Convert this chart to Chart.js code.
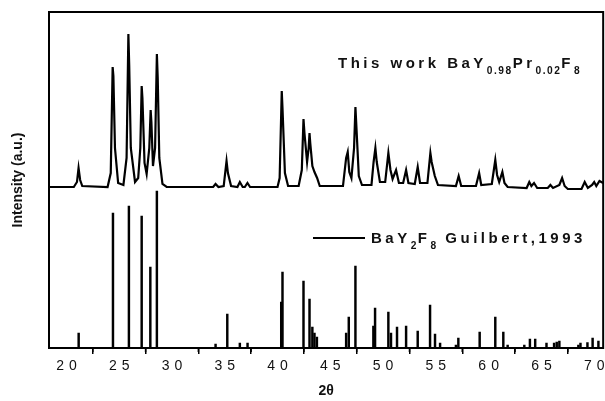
<!DOCTYPE html>
<html lang="en">
<head>
<meta charset="UTF-8" />
<title>XRD BaY2F8</title>
<script src="https://cdn.jsdelivr.net/npm/chart.js"></script>
<style>
  body { margin: 0; background: #fff; }
</style>
</head>
<body>
<canvas id="xrd" width="605" height="401"></canvas>
<script>
// measured pattern, this work (2theta, intensity in a.u.)
const measTheta = [18.4, 20.7, 21.0, 21.15, 21.3, 21.5, 23.9, 24.2, 24.38, 24.45, 24.6, 24.9, 25.4, 25.7, 25.87, 25.95, 26.1, 26.5, 26.8, 27.0, 27.13, 27.2, 27.4, 27.6, 27.85, 27.98, 28.05, 28.2, 28.4, 28.57, 28.65, 28.8, 29.1, 29.5,
  33.9, 34.13, 34.4, 34.9, 35.17, 35.3, 35.6, 36.2, 36.43, 36.7, 36.9, 37.15, 37.4, 40.0, 40.2, 40.4, 40.47, 40.7, 41.0,
  42.0, 42.3, 42.46, 42.55, 42.8, 42.95, 43.03, 43.1, 43.3, 43.5, 43.75, 44.0, 46.2, 46.5, 46.65, 46.8, 47.0, 47.25, 47.38, 47.45, 47.7, 48.0,
  48.9, 49.1, 49.27, 49.4, 49.7, 50.2, 50.5, 50.7, 50.9, 51.23, 51.5, 51.9, 52.18, 52.4, 53.0, 53.28, 53.5, 54.2, 54.48, 54.6, 54.9, 55.2,
  56.9, 57.16, 57.4, 58.8, 59.1, 59.3, 60.3, 60.63, 60.8, 61.0, 61.3, 61.5, 61.8, 63.6, 63.85, 64.05, 64.3, 64.6, 65.6, 65.85, 66.1,
  66.7, 66.96, 67.2, 67.5, 68.8, 69.1, 69.4, 69.8, 70.0, 70.2, 70.5, 70.85];
const measIntensity = [161, 161, 166, 180, 168, 162, 161, 175, 281, 272, 200, 165, 163, 190, 314, 282, 200, 166, 170, 200, 262, 250, 185, 174, 200, 238, 226, 182, 200, 294, 270, 190, 164, 161,
  161, 164, 161, 162, 187, 175, 162, 161, 166, 161, 161, 165, 161, 161, 170, 257, 240, 175, 162,
  162, 178, 229, 215, 186, 200, 215, 205, 182, 176, 170, 162, 162, 190, 196, 176, 170, 200, 241, 226, 172, 163,
  163, 186, 200, 186, 166, 166, 195, 178, 169, 178, 165, 165, 178, 165, 164, 181, 165, 165, 195, 186, 172, 163,
  162, 172, 162, 162, 175, 163, 164, 188, 173, 166, 176, 165, 161, 160, 166, 162, 165, 160, 160, 163, 160,
  163, 170, 162, 159, 159, 166, 160, 163, 166, 162, 167, 165];

// reference lines, BaY2F8 Guilbert 1993
const refTheta = [21.16, 24.41, 25.92, 27.13, 27.95, 28.57, 34.13, 35.24, 36.43, 37.16, 40.35, 40.47, 42.46, 43.03, 43.3, 43.5, 43.73,
  46.5, 46.75, 47.38, 49.08, 49.24, 50.5, 50.75, 51.32, 52.18, 53.28, 54.45, 54.92, 55.4, 56.9, 57.13, 59.15, 60.63, 61.39, 61.8,
  63.38, 63.91, 64.41, 65.48, 66.2, 66.45, 66.7, 68.5, 68.7, 69.36, 69.85, 70.4];
const refIntensity = [15, 135, 142, 132, 81, 157, 4, 34, 5, 5, 46, 76, 67, 49, 21, 15, 11,
  15, 31, 82, 22, 40, 36, 15, 21, 22, 17, 43, 14, 5, 3, 10, 16, 31, 16, 3,
  3, 9, 9, 5, 5, 6, 7, 3, 5, 5.5, 10, 7];

const majorTicks = [20, 25, 30, 35, 40, 45, 50, 55, 60, 65, 70];

const FONT = 'Arial, "Liberation Sans", sans-serif';

function richText(ctx, x, y, parts, size) {
  parts.forEach(p => {
    const sz = p.sub ? size * 0.68 : size;
    ctx.font = `bold ${sz}px ${FONT}`;
    ctx.letterSpacing = (p.sub ? 1.5 : 3.5) + 'px';
    ctx.fillText(p.t, x, p.sub ? y + 6 : y);
    x += ctx.measureText(p.t).width;
  });
}

const decor = {
  id: 'decor',
  afterDraw(chart) {
    const { ctx, chartArea: a, scales: { x } } = chart;
    ctx.save();
    ctx.strokeStyle = '#000';
    ctx.lineWidth = 2;
    ctx.strokeRect(a.left, a.top, a.right - a.left, a.bottom - a.top);

    // minor ticks
    ctx.lineWidth = 1.5;
    for (let v = 22.5; v < x.max; v += 5) {
      const px = x.getPixelForValue(v);
      ctx.beginPath();
      ctx.moveTo(px, a.bottom);
      ctx.lineTo(px, a.bottom + 4);
      ctx.stroke();
    }

    // spaced tick labels
    ctx.fillStyle = '#111';
    ctx.font = `14px ${FONT}`;
    ctx.letterSpacing = '5px';
    ctx.textBaseline = 'middle';
    majorTicks.forEach(v => {
      const s = String(v);
      const w = ctx.measureText(s).width - 5;
      ctx.fillText(s, x.getPixelForValue(v) - w / 2, a.bottom + 18.5);
    });

    // legend texts
    ctx.textBaseline = 'alphabetic';
    richText(ctx, 338, 68, [
      { t: 'This work BaY' }, { t: '0.98', sub: true }, { t: 'Pr' }, { t: '0.02', sub: true }, { t: 'F' }, { t: '8', sub: true }
    ], 15);

    ctx.lineWidth = 2;
    ctx.beginPath();
    ctx.moveTo(313, 238);
    ctx.lineTo(365, 238);
    ctx.stroke();
    richText(ctx, 371, 243, [
      { t: 'BaY' }, { t: '2', sub: true }, { t: 'F' }, { t: '8', sub: true }, { t: ' Guilbert,1993' }
    ], 15);
    ctx.restore();
  }
};

new Chart(document.getElementById('xrd'), {
  type: 'line',
  data: {
    datasets: [
      {
        label: 'This work',
        data: measTheta.map((t, i) => ({ x: t, y: measIntensity[i] })),
        borderColor: '#000',
        borderWidth: 2.2,
        pointRadius: 0,
        tension: 0,
        fill: false
      },
      {
        type: 'bar',
        label: 'BaY2F8 Guilbert,1993',
        data: refTheta.map((t, i) => ({ x: t, y: refIntensity[i] })),
        backgroundColor: '#000',
        barThickness: 1.8,
        borderWidth: 0
      }
    ]
  },
  options: {
    responsive: false,
    animation: false,
    layout: { padding: { top: 12, right: 1, left: 0, bottom: 0 } },
    plugins: { legend: { display: false }, tooltip: { enabled: false } },
    scales: {
      x: {
        type: 'linear',
        min: 18.35,
        max: 70.85,
        offset: false,
        ticks: { stepSize: 5, includeBounds: false, autoSkip: false, color: 'rgba(0,0,0,0)', font: { size: 14 } },
        grid: { drawOnChartArea: false, drawTicks: true, tickLength: 6, color: '#000', lineWidth: 1.5 },
        border: { display: false },
        title: {
          display: true, text: '2θ', color: '#111',
          font: { family: FONT, size: 14, weight: 'bold' },
          padding: { top: 0, bottom: 1 }
        },
        afterFit(s) { s.height = 53; }
      },
      y: {
        min: 0,
        max: 336,
        ticks: { display: false },
        grid: { display: false },
        border: { display: false },
        title: {
          display: true, text: 'Intensity (a.u.)', color: '#111',
          font: { family: FONT, size: 14, weight: 'bold' },
          padding: { top: 10, bottom: 0 }
        },
        afterFit(s) { s.width = 49; }
      }
    }
  },
  plugins: [decor]
});
</script>
</body>
</html>
